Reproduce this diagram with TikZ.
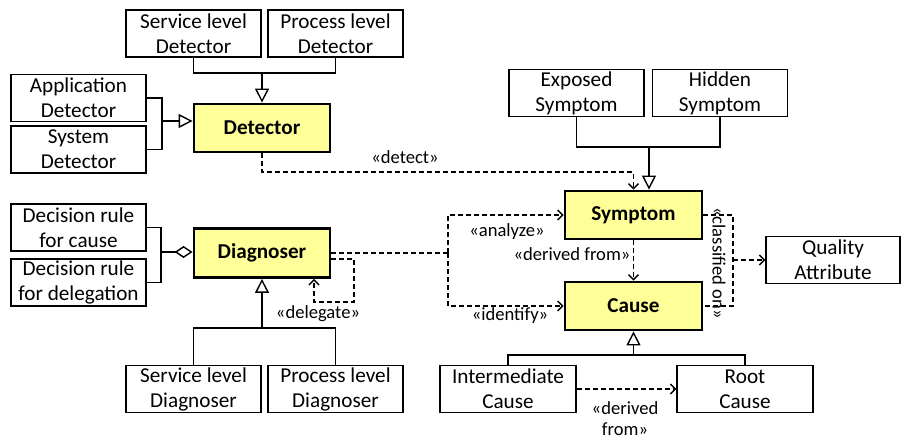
\documentclass[tikz,border=0pt]{standalone}
\usepackage{fontspec}
\setmainfont{Carlito}
\usetikzlibrary{arrows.meta}
\definecolor{classyellow}{HTML}{FFFF99}
\begin{document}
\begin{tikzpicture}[x=1pt,y=-1pt,
  box/.style={draw, line width=1.4pt, minimum width=135pt, minimum height=47pt, align=center, font=\fontsize{21.2}{25}\selectfont, inner sep=0pt},
  core/.style={box, line width=2.8pt, fill=classyellow, font=\fontsize{21.2}{25}\selectfont\bfseries},
  lbl/.style={font=\fontsize{18.6}{22}\selectfont, inner sep=1pt, align=center},
  conn/.style={line width=1.4pt},
  gen/.style={conn, -{Triangle[open, length=14pt, width=14pt]}},
  agg/.style={conn, -{Diamond[open, length=18pt, width=12pt]}},
  dashl/.style={conn, dash pattern=on 5pt off 3pt},
  dep/.style={dashl, -{Straight Barb[length=5pt, width=10pt]}}]
\useasboundingbox (0,0) rectangle (901,443);
% nodes
\node[box] (sld) at (193.5,33.5) {Service level\\Detector};
\node[box] (pld) at (335.5,33.5) {Process level\\Detector};
\node[box] (appd) at (78.5,98) {Application\\Detector};
\node[box] (sysd) at (78.5,149.5) {System\\Detector};
\node[core, minimum width=136pt, minimum height=48pt] (det) at (262,128) {Detector};
\node[box] (drc) at (78.5,227.5) {Decision rule\\for cause};
\node[box] (drd) at (78.5,282.5) {Decision rule\\for delegation};
\node[core, minimum width=136pt, minimum height=49pt] (diag) at (262,253) {Diagnoser};
\node[box] (sldg) at (193.5,389) {Service level\\Diagnoser};
\node[box] (pldg) at (335.5,389) {Process level\\Diagnoser};
\node[box] (exs) at (576.5,93) {Exposed\\Symptom};
\node[box] (his) at (720,93) {Hidden\\Symptom};
\node[core, minimum width=137pt, minimum height=48pt] (sym) at (633.5,215) {Symptom};
\node[core, minimum width=137pt, minimum height=48pt] (cause) at (633.5,306) {Cause};
\node[box, minimum width=134pt] (qa) at (833,260) {Quality\\Attribute};
\node[box, minimum width=136pt] (ic) at (508,389) {Intermediate\\Cause};
\node[box, minimum width=136pt] (rc) at (745,389) {Root\\Cause};
% junction coordinates
\coordinate (j1) at (262,73);
\coordinate (j2) at (162,121);
\coordinate (j3) at (161,252);
\coordinate (j4) at (262,328);
\coordinate (j5) at (649,147);
\coordinate (j6) at (633.5,355);
\coordinate (dt) at (633.5,172);
\coordinate (d1) at (354,259);
\coordinate (d2) at (314,302);
\coordinate (a0) at (448,253);
\coordinate (qm) at (733,260);
% generalizations
\draw[conn] (sld.south) |- (j1) -| (pld.south);
\draw[gen] (j1) -- (det.north);
\draw[conn] (appd.east) -| (j2) |- (sysd.east);
\draw[gen] (j2) -- (det.west |- j2);
\draw[conn] (drc.east) -| (j3) |- (drd.east);
\draw[agg] (j3) -- (diag.west |- j3);
\draw[conn] (sldg.north) |- (j4) -| (pldg.north);
\draw[gen] (j4) -- (diag.south);
\draw[conn] (exs.south) |- (j5) -| (his.south);
\draw[gen] (j5) -- (j5 |- sym.north);
\draw[conn] (ic.north) |- (j6) -| (rc.north);
\draw[gen] (j6) -- (cause.south);
% dependencies
\draw[dep] (det.south) |- (dt) -- (sym.north);
\node[lbl] (ldetect) at (405,157) {«detect»};
\draw[dep] (diag.east |- d1) -- (d1) |- (d2) -- (d2 |- diag.south);
\node[lbl] (ldeleg) at (318,314) {«delegate»};
\draw[dashl] (diag.east) -- (a0);
\draw[dep] (a0) |- (sym.west);
\draw[dep] (a0) |- (cause.west);
\node[lbl] (lanalyze) at (507,232) {«analyze»};
\node[lbl] (lidentify) at (510,316) {«identify»};
\draw[dep] (sym.south) -- (cause.north);
\node[lbl] (lderived) at (572,254) {«derived from»};
\draw[dashl] (sym.east) -| (qm) |- (cause.east);
\draw[dep] (qm) -- (qa.west);
\node[lbl, rotate=-90] (lclass) at (719,263) {«classified on»};
\draw[dep] (ic.east) -- (rc.west);
\node[lbl, font=\fontsize{18.6}{21}\selectfont] (lderived2) at (625,419) {«derived\\from»};
\end{tikzpicture}
\end{document}
